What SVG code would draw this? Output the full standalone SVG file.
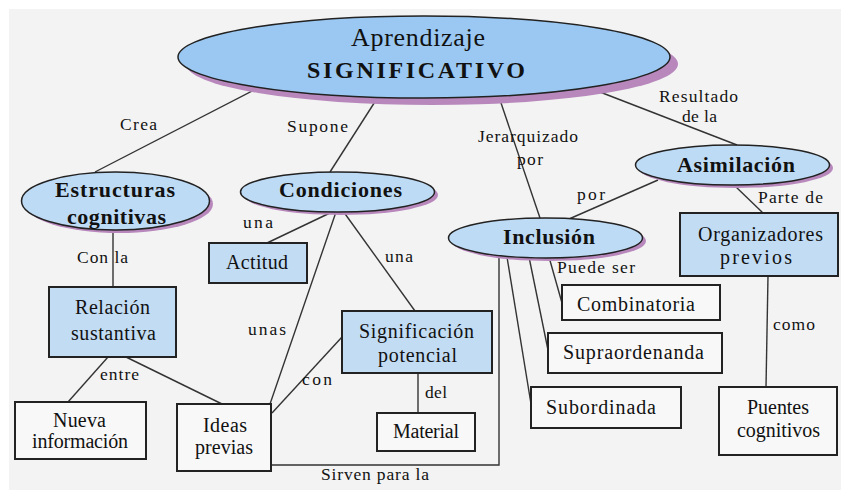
<svg xmlns="http://www.w3.org/2000/svg" width="841" height="490" viewBox="0 0 841 490">
<style>
.bg{fill:#f3f3f3}
.el{fill:#bedbf5;stroke:#222;stroke-width:1.5}
.sh{fill:#b888bd}
.bx{fill:#c2dcf4;stroke:#222;stroke-width:2}
.wb{fill:#f8f8f8;stroke:#222;stroke-width:2}
.ln{stroke:#333;stroke-width:1.4;fill:none}
text{font-family:"Liberation Serif","Times New Roman",serif;fill:#111}
.t{font-size:20px;text-anchor:middle}
.b{font-size:22px;font-weight:bold;text-anchor:middle}
.l{font-size:17.5px}
</style>
<rect x="0" y="0" width="841" height="490" fill="#ffffff"/>
<rect class="bg" x="9" y="9" width="832" height="481"/>
<g id="connectors">
<line class="ln" x1="258" y1="88" x2="95" y2="172"/>
<line class="ln" x1="378" y1="97" x2="330" y2="172"/>
<line class="ln" x1="499" y1="97" x2="540" y2="218"/>
<line class="ln" x1="587" y1="87" x2="737" y2="145"/>
<line class="ln" x1="658" y1="180" x2="569" y2="219"/>
<line class="ln" x1="735" y1="186" x2="763" y2="213"/>
<line class="ln" x1="113" y1="230" x2="113" y2="287"/>
<line class="ln" x1="332" y1="212" x2="267" y2="243"/>
<line class="ln" x1="336" y1="212" x2="270" y2="404"/>
<line class="ln" x1="343" y1="211" x2="415" y2="311"/>
<line class="ln" x1="108" y1="357" x2="68" y2="402"/>
<line class="ln" x1="126" y1="357" x2="222" y2="404"/>
<line class="ln" x1="342" y1="337" x2="272" y2="413"/>
<line class="ln" x1="418" y1="373" x2="418" y2="413"/>
<line class="ln" x1="768" y1="276" x2="766" y2="387"/>
<line class="ln" x1="549" y1="257" x2="562" y2="303"/>
<line class="ln" x1="529" y1="257" x2="548" y2="350"/>
<line class="ln" x1="507" y1="257" x2="532" y2="410"/>
<polyline class="ln" points="271,465 499,465 499,257"/>
<text class="l" x="120" y="130" textLength="37">Crea</text>
<text class="l" x="287" y="132" textLength="61">Supone</text>
<text class="l" x="478" y="142" textLength="100">Jerarquizado</text>
<text class="l" x="517" y="165" textLength="26">por</text>
<text class="l" x="659" y="102" textLength="79">Resultado</text>
<text class="l" x="682" y="122" textLength="35">de la</text>
<text class="l" x="577" y="200" textLength="28">por</text>
<text class="l" x="758" y="203" textLength="65">Parte de</text>
<text class="l" x="77" y="263" textLength="51">Con la</text>
<text class="l" x="243" y="228" textLength="30">una</text>
<text class="l" x="248" y="335" textLength="38">unas</text>
<text class="l" x="385" y="262" textLength="28">una</text>
<text class="l" x="100" y="380" textLength="39">entre</text>
<text class="l" x="302" y="385" textLength="30">con</text>
<text class="l" x="425" y="398" textLength="22">del</text>
<text class="l" x="773" y="330" textLength="42">como</text>
<text class="l" x="557" y="273" textLength="78">Puede ser</text>
<text class="l" x="321" y="480" textLength="108">Sirven para la</text>
</g>
<g id="aprendizaje">
<ellipse class="sh" cx="432" cy="64" rx="246" ry="41"/>
<ellipse cx="424" cy="57" rx="246" ry="41" fill="#9ac8f2" stroke="#222" stroke-width="1.5"/>
<text x="418" y="46" text-anchor="middle" font-size="26" textLength="134">Aprendizaje</text>
<text x="416" y="78" text-anchor="middle" font-size="24" font-weight="bold" textLength="218">SIGNIFICATIVO</text>
</g>
<g id="estructuras">
<ellipse class="sh" cx="119" cy="204" rx="94" ry="29"/>
<ellipse class="el" cx="115.5" cy="201" rx="94" ry="29"/>
<text class="b" x="115" y="197" textLength="120">Estructuras</text>
<text class="b" x="116.5" y="224" textLength="99">cognitivas</text>
</g>
<g id="condiciones">
<ellipse class="sh" cx="341" cy="195" rx="97" ry="20"/>
<ellipse class="el" cx="337.5" cy="192" rx="97" ry="20"/>
<text class="b" x="340.5" y="197" textLength="123">Condiciones</text>
</g>
<g id="asimilacion">
<ellipse class="sh" cx="736" cy="168" rx="97" ry="20"/>
<ellipse class="el" cx="732.5" cy="165" rx="97" ry="20"/>
<text class="b" x="736" y="172" textLength="118">Asimilación</text>
</g>
<g id="inclusion">
<ellipse class="sh" cx="549" cy="241" rx="97" ry="20"/>
<ellipse class="el" cx="545.5" cy="238" rx="97" ry="20"/>
<text class="b" x="549" y="244" textLength="92">Inclusión</text>
</g>
<g id="actitud">
<rect class="bx" x="209" y="243" width="98" height="40"/>
<text class="t" x="257" y="269" textLength="62">Actitud</text>
</g>
<g id="relacion">
<rect class="bx" x="49" y="287" width="127" height="70"/>
<text class="t" x="112.5" y="314" textLength="75">Relación</text>
<text class="t" x="113.5" y="340" textLength="85">sustantiva</text>
</g>
<g id="significacion">
<rect class="bx" x="342" y="311" width="150" height="62"/>
<text class="t" x="416.5" y="338" textLength="115">Significación</text>
<text class="t" x="417.5" y="362" textLength="79">potencial</text>
</g>
<g id="material">
<rect class="wb" x="377" y="413" width="98" height="38"/>
<text class="t" x="426" y="438" textLength="66">Material</text>
</g>
<g id="nueva">
<rect class="wb" x="15" y="402" width="131" height="57"/>
<text class="t" x="79.5" y="427" textLength="53">Nueva</text>
<text class="t" x="80" y="448" textLength="96">información</text>
</g>
<g id="ideas">
<rect class="wb" x="177" y="404" width="94" height="67"/>
<text class="t" x="225" y="432" textLength="44">Ideas</text>
<text class="t" x="224" y="454" textLength="58">previas</text>
</g>
<g id="organizadores">
<rect class="bx" x="680" y="213" width="158" height="63"/>
<text class="t" x="760.5" y="241" textLength="125">Organizadores</text>
<text class="t" x="756" y="264" textLength="72">previos</text>
</g>
<g id="combinatoria">
<rect class="wb" x="562" y="285" width="158" height="35"/>
<text class="t" x="636" y="311" textLength="118">Combinatoria</text>
</g>
<g id="supraordenanda">
<rect class="wb" x="548" y="333" width="174" height="40"/>
<text class="t" x="633.5" y="359" textLength="141">Supraordenanda</text>
</g>
<g id="subordinada">
<rect class="wb" x="531" y="387" width="150" height="41"/>
<text class="t" x="601" y="414" textLength="110">Subordinada</text>
</g>
<g id="puentes">
<rect class="wb" x="719" y="387" width="118" height="68"/>
<text class="t" x="778" y="414" textLength="62">Puentes</text>
<text class="t" x="778.5" y="437" textLength="83">cognitivos</text>
</g>
</svg>
